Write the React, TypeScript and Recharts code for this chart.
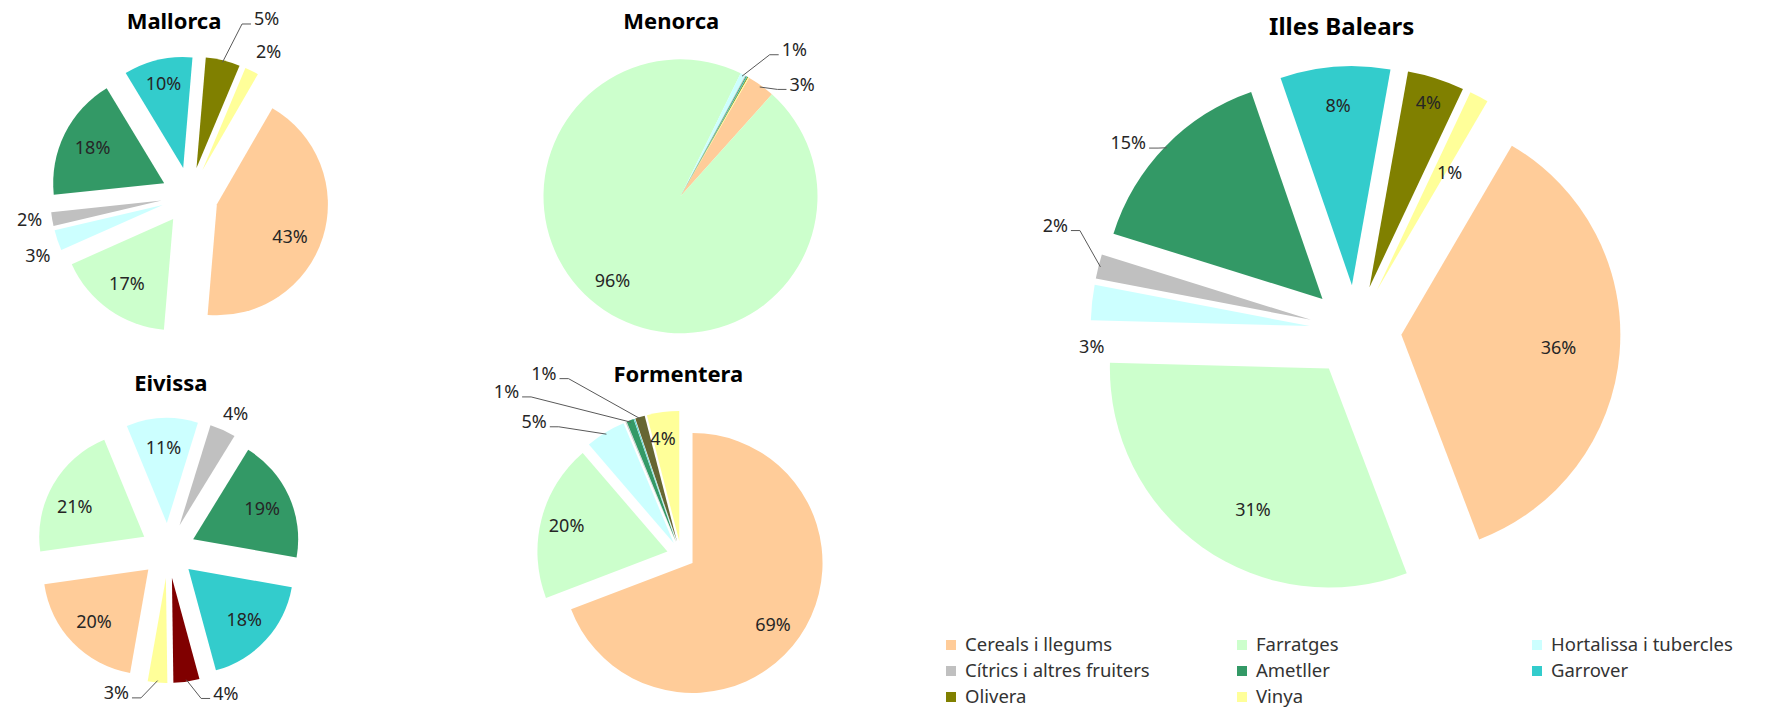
import React from "react";
import { PieChart, Pie, Cell, Sector } from "recharts";

// categories in legend order (also the clockwise slice order)
const categories = [
  "Cereals i llegums",
  "Farratges",
  "Hortalissa i tubercles",
  "Cítrics i altres fruiters",
  "Ametller",
  "Garrover",
  "Olivera",
  "Vinya",
];
const baseColors = ["#FFCC99", "#CCFFCC", "#CCFFFF", "#C0C0C0", "#339966", "#33CCCC", "#808000", "#FFFF99"];

// share of cultivated surface (%) per island
const mallorcaValues = [43, 17, 3, 2, 18, 10, 5, 2];
const menorcaValues = [3.3, 95.6, 0.6, 0.1, 0.1, 0.1, 0.1, 0.1];
const eivissaValues = [20, 21, 11, 4, 19, 18, 4, 3];
const formenteraValues = [69.2, 19.5, 5.0, 0.1, 0.9, 0.1, 1.2, 4.0];
const balearsValues = [35.8, 31.2, 2.6, 1.8, 14.9, 8.1, 4.2, 1.4];

const FONT = "'Noto Sans', 'Open Sans', sans-serif";
const RAD = Math.PI / 180;

type LabelSpec = { k: number; shift?: number; anchor?: "start" | "middle" | "end"; leader?: boolean };

interface PieSpec {
  id: string;
  title: string;
  values: number[];
  colors: string[];
  cx: number;
  cy: number;
  r: number;
  explode: number;
  firstAngle: number; // clockwise from 12 o'clock, like Excel
  titleX: number;
  titleY: number;
  titleSize: number;
  labels: Record<number, LabelSpec>;
}

const pies: PieSpec[] = [
  {
    id: "mallorca",
    title: "Mallorca",
    values: mallorcaValues,
    colors: baseColors,
    cx: 189.7, cy: 195.8, r: 111, explode: 28.5, firstAngle: 30,
    titleX: 174, titleY: 29.3, titleSize: 22,
    labels: {
      0: { k: 0.72, shift: 6.6 },
      2: { k: 1.11, shift: -5.8, anchor: "end" },
      3: { k: 1.09, shift: 0.4, anchor: "end" },
      5: { k: 0.78 },
      6: { k: 1.44, shift: 7.3, anchor: "start", leader: true },
      7: { k: 1.17, shift: -2, anchor: "start" },
    },
  },
  {
    id: "menorca",
    title: "Menorca",
    values: menorcaValues,
    colors: baseColors,
    cx: 680.5, cy: 196.3, r: 137, explode: 0, firstAngle: 30,
    titleX: 671.3, titleY: 29.3, titleSize: 22,
    labels: {
      0: { k: 1.14, shift: 8.3, anchor: "start", leader: true },
      1: { k: 0.79, shift: 5 },
      2: { k: 1.3, shift: 7.5, anchor: "start", leader: true },
    },
  },
  {
    id: "eivissa",
    title: "Eivissa",
    values: eivissaValues,
    colors: baseColors.map((c, i) => (i === 6 ? "#800000" : c)),
    cx: 168.1, cy: 550.5, r: 105, explode: 27.5, firstAngle: 190,
    titleX: 170.8, titleY: 390.7, titleSize: 22,
    labels: {
      1: { k: 0.72, shift: -6.5 },
      3: { k: 1.19, shift: 2.3, anchor: "middle" },
      6: { k: 1.17, shift: -11.6, anchor: "start", leader: true },
      7: { k: 1.15, shift: 13.2, anchor: "end", leader: true },
    },
  },
  {
    id: "formentera",
    title: "Formentera",
    values: formenteraValues,
    colors: baseColors.map((c, i) => (i === 6 ? "#666633" : c)),
    cx: 681, cy: 555, r: 130, explode: 14, firstAngle: 0,
    titleX: 678.3, titleY: 381.7, titleSize: 22,
    labels: {
      0: { k: 0.78, shift: 3 },
      1: { k: 0.8 },
      2: { k: 1.35, shift: -14.6, anchor: "end", leader: true },
      4: { k: 1.67, shift: -25.6, anchor: "end", leader: true },
      6: { k: 1.59, shift: -19.1, anchor: "end", leader: true },
      7: { k: 0.8, shift: -1.8 },
    },
  },
  {
    id: "balears",
    title: "Illes Balears",
    values: balearsValues,
    colors: baseColors,
    cx: 1355.5, cy: 331, r: 219, explode: 46, firstAngle: 30.3,
    titleX: 1341.7, titleY: 35, titleSize: 24,
    labels: {
      1: { k: 0.73, shift: -7 },
      2: { k: 1.0, shift: -11.6 },
      3: { k: 1.19, shift: 7.1, anchor: "end", leader: true },
      4: { k: 1.075, shift: -2.7, anchor: "end", leader: true },
      5: { k: 0.82 },
      6: { k: 0.885 },
      7: { k: 0.63, shift: 4 },
    },
  },
];

// draws one exploded slice plus its percentage label
function renderSlice(props: any, spec: PieSpec) {
  const { cx, cy, outerRadius, startAngle, endAngle, index } = props;
  const total = spec.values.reduce((s, v) => s + v, 0);
  const pct = Math.round((spec.values[index] / total) * 100);
  const mid = (startAngle + endAngle) / 2;
  const ex = cx + spec.explode * Math.cos(mid * RAD);
  const ey = cy - spec.explode * Math.sin(mid * RAD);
  const lab = spec.labels[index] ?? { k: 0.72 };
  const a = mid - (lab.shift ?? 0);
  const ax = ex + lab.k * outerRadius * Math.cos(a * RAD);
  const ay = ey - lab.k * outerRadius * Math.sin(a * RAD);
  const anchor = lab.anchor ?? "middle";

  let leader = null;
  if (lab.leader && pct >= 1) {
    const px = ex + (outerRadius - 2) * Math.cos(mid * RAD);
    const py = ey - (outerRadius - 2) * Math.sin(mid * RAD);
    const side = anchor === "end" ? 1 : -1;
    const x3 = ax + side * 3;
    const x2 = ax + side * 12;
    const y3 = ay + 5;
    leader = (
      <polyline
        points={`${px},${py} ${x2},${y3} ${x3},${y3}`}
        fill="none"
        stroke="#595959"
        strokeWidth={1}
      />
    );
  }

  return (
    <g key={`${spec.id}-slice-${index}`}>
      <Sector
        cx={ex}
        cy={ey}
        innerRadius={0}
        outerRadius={outerRadius}
        startAngle={startAngle}
        endAngle={endAngle}
        fill={spec.colors[index]}
        stroke="none"
      />
      {leader}
      {pct >= 1 && (
        <text
          x={ax}
          y={ay}
          dy="0.35em"
          textAnchor={anchor}
          fontSize={18}
          fontFamily={FONT}
          fill="#262626"
        >
          {pct}%
        </text>
      )}
    </g>
  );
}

const legendCols = [951, 1242, 1537];
const legendRows = [645, 671, 697];

export default function App() {
  return (
    <div style={{ position: "absolute", left: 0, top: 0, width: 1765, height: 715, background: "#fff", fontFamily: FONT }}>
      <div style={{ position: "absolute", left: 0, top: 0 }}>
        <PieChart width={1765} height={715} margin={{ top: 0, right: 0, bottom: 0, left: 0 }}>
          {pies.map((spec) => {
            const rows = categories.map((name, i) => ({ name, value: spec.values[i] }));
            return (
              <Pie
                key={spec.id}
                data={rows}
                dataKey="value"
                nameKey="name"
                cx={spec.cx}
                cy={spec.cy}
                innerRadius={0}
                outerRadius={spec.r}
                startAngle={90 - spec.firstAngle}
                endAngle={90 - spec.firstAngle - 360}
                stroke="none"
                isAnimationActive={false}
                labelLine={false}
                label={(p: any) => renderSlice(p, spec)}
              >
                {rows.map((_, i) => (
                  <Cell key={i} fill="none" stroke="none" />
                ))}
              </Pie>
            );
          })}
        </PieChart>
      </div>
      <svg width={1765} height={715} style={{ position: "absolute", left: 0, top: 0, pointerEvents: "none" }}>
        {pies.map((spec) => (
          <text
            key={spec.id}
            x={spec.titleX}
            y={spec.titleY}
            textAnchor="middle"
            fontSize={spec.titleSize}
            fontWeight="bold"
            fontFamily={FONT}
            fill="#000"
          >
            {spec.title}
          </text>
        ))}
        {categories.map((name, i) => {
          const x = legendCols[i % 3];
          const y = legendRows[Math.floor(i / 3)];
          return (
            <g key={name}>
              <rect x={x - 5} y={y - 5} width={10} height={10} fill={baseColors[i]} />
              <text x={x + 14} y={y} dy="0.35em" fontSize={18.5} fontFamily={FONT} fill="#333">
                {name}
              </text>
            </g>
          );
        })}
      </svg>
    </div>
  );
}
